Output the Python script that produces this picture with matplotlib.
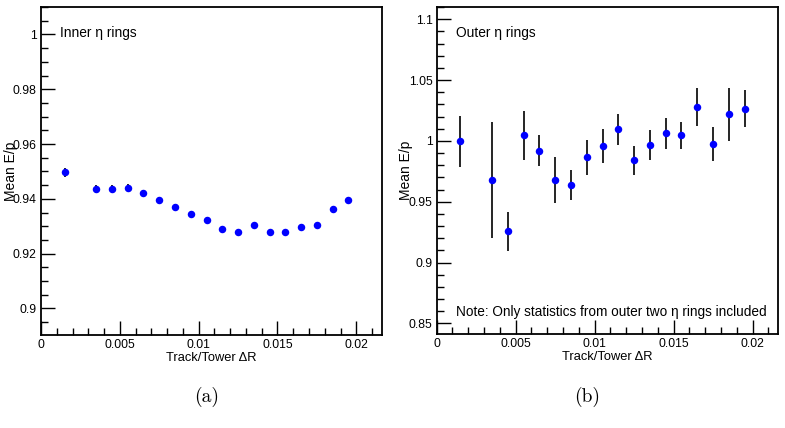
import matplotlib
matplotlib.use("Agg")
import matplotlib.pyplot as plt
from matplotlib.ticker import MultipleLocator, FixedLocator

plt.rcParams['font.family'] = ['Liberation Sans', 'DejaVu Sans']

# Data
dr_inner = [0.0015, 0.0035, 0.0045, 0.0055, 0.0065, 0.0075, 0.0085, 0.0095, 0.0105,
            0.0115, 0.0125, 0.0135, 0.0145, 0.0155, 0.0165, 0.0175, 0.0185, 0.0195]
ep_inner = [0.9497, 0.9435, 0.9435, 0.9441, 0.9421, 0.9395, 0.9370, 0.9345, 0.9323,
            0.9290, 0.9280, 0.9303, 0.9280, 0.9278, 0.9297, 0.9303, 0.9361, 0.9396]
err_inner = [0.0016, 0.0015, 0.0014, 0.0014, 0.0012, 0.0011, 0.0010, 0.0010, 0.0010,
             0.0010, 0.0009, 0.0010, 0.0009, 0.0009, 0.0010, 0.0010, 0.0011, 0.0012]

dr_outer = [0.0015, 0.0035, 0.0045, 0.0055, 0.0065, 0.0075, 0.0085, 0.0095, 0.0105,
            0.0115, 0.0125, 0.0135, 0.0145, 0.0155, 0.0165, 0.0175, 0.0185, 0.0195]
ep_outer = [0.9998, 0.9677, 0.9255, 1.0044, 0.9918, 0.9677, 0.9636, 0.9866, 0.9959,
            1.0094, 0.9841, 0.9967, 1.0061, 1.0047, 1.0277, 0.9975, 1.0217, 1.0263]
err_outer = [0.0210, 0.0478, 0.0157, 0.0205, 0.0128, 0.0187, 0.0126, 0.0143, 0.0140,
             0.0128, 0.0118, 0.0125, 0.0128, 0.0110, 0.0154, 0.0137, 0.0216, 0.0152]

xticks = [0, 0.005, 0.01, 0.015, 0.02]
xticklabels = ["0", "0.005", "0.01", "0.015", "0.02"]
xlabel = "Track/Tower \u0394R"
ylabel = "Mean E/p"

fig = plt.figure(figsize=(7.85, 4.28), dpi=100)
W, H = 785.0, 428.0

def make_ax(x0, x1, ytop, ybot):
    return fig.add_axes([x0 / W, 1 - ybot / H, (x1 - x0) / W, (ybot - ytop) / H])

axL = make_ax(41, 382, 7, 335)
axR = make_ax(436.7, 778.3, 7, 334.3)

def fmt(v, pos):
    return ("%.3f" % v).rstrip('0').rstrip('.')

def style(ax, ylim, ymaj, ymin, ylab_x):
    ax.set_xlim(0, 0.02163)
    ax.set_ylim(*ylim)
    ax.xaxis.set_major_locator(FixedLocator(xticks))
    ax.xaxis.set_minor_locator(MultipleLocator(0.001))
    ax.set_xticklabels(xticklabels)
    ax.yaxis.set_major_locator(MultipleLocator(ymaj))
    ax.yaxis.set_minor_locator(MultipleLocator(ymin))
    ax.yaxis.set_major_formatter(fmt)
    ax.tick_params(which='major', direction='in', length=10, width=1.0,
                   labelsize=8.7, top=False, right=False, pad=3)
    ax.tick_params(which='minor', direction='in', length=5, width=1.0,
                   top=False, right=False)
    for s in ax.spines.values():
        s.set_linewidth(1.3)
    ax.set_xlabel(xlabel, fontsize=9.3)
    ax.xaxis.set_label_coords(0.5, -0.052)
    ax.set_ylabel(ylabel, fontsize=10)
    ax.yaxis.set_label_coords(ylab_x, 0.5)

style(axL, (0.8903, 1.01), 0.02, 0.005, -0.066)
style(axR, (0.841, 1.11), 0.05, 0.01, -0.070)

for ax, x, y, e in [(axL, dr_inner, ep_inner, err_inner), (axR, dr_outer, ep_outer, err_outer)]:
    ax.errorbar(x, y, yerr=e, fmt='o', color='#0000ff', ecolor='black',
                elinewidth=1.2, capsize=1.5, capthick=1.0, markersize=5.4,
                markeredgewidth=0)

fig.text(60 / W, 1 - 32.7 / H, "Inner \u03b7 rings", fontsize=9.9, va='center', ha='left')
fig.text(455.7 / W, 1 - 32.7 / H, "Outer \u03b7 rings", fontsize=9.9, va='center', ha='left')
fig.text(455.7 / W, 1 - 312.3 / H, "Note: Only statistics from outer two \u03b7 rings included",
         fontsize=9.8, va='center', ha='left')

fig.text(207 / W, 1 - 396.7 / H, "(a)", fontsize=14, family='cmr10', ha='center', va='center')
fig.text(586.7 / W, 1 - 396.7 / H, "(b)", fontsize=14, family='cmr10', ha='center', va='center')

fig.savefig("out.png", dpi=100)
